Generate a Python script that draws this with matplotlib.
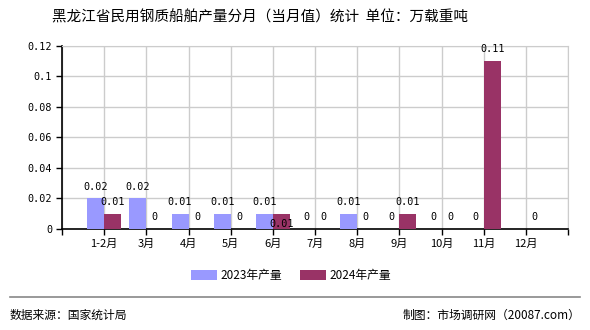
import matplotlib
matplotlib.use("Agg")
import matplotlib.pyplot as plt
import numpy as np

plt.rcParams["font.family"] = ["Noto Sans CJK SC", "DejaVu Sans"]

months = ["1-2月", "3月", "4月", "5月", "6月", "7月", "8月", "9月", "10月", "11月", "12月"]
y2023 = [0.02, 0.02, 0.01, 0.01, 0.01, 0, 0.01, 0, 0, 0, None]
y2024 = [0.01, 0, 0, 0, 0.01, 0, 0, 0.01, 0, 0.11, 0]
yticks = [0, 0.02, 0.04, 0.06, 0.08, 0.1, 0.12]

c2023 = "#9999ff"
c2024 = "#993366"
numfont = "DejaVu Sans Mono"

fig = plt.figure(figsize=(5.9, 3.3), dpi=100)
ax = fig.add_axes([0.105, 0.306, 0.858, 0.555])

x = np.arange(len(months))
w = 0.4


def fmt(v):
    return "0" if v == 0 else ("%g" % v)


for vals, off, col, lab in [(y2023, -w / 2, c2023, "2023年产量"), (y2024, w / 2, c2024, "2024年产量")]:
    xs = [xi + off for xi, v in zip(x, vals) if v is not None]
    vs = [v for v in vals if v is not None]
    ax.bar(xs, vs, width=w, color=col, label=lab, zorder=3)
    for xi, v in zip(xs, vs):
        ax.text(xi, v + 0.0045, fmt(v), ha="center", va="bottom",
                fontsize=7.3, family=numfont, zorder=4)

# the overlapping 6月 label in the reference sits inside the bar, mimic that
for t in ax.texts:
    if abs(t.get_position()[0] - (4 + w / 2)) < 1e-6:
        t.set_position((4 + w / 2, 0.0))

ax.set_xlim(-1, 11)
ax.set_ylim(0, 0.12)
ax.set_xticks(np.arange(-1, 12))
ax.set_xticklabels([""] + months + [""], fontsize=8)
ax.set_yticks(yticks)
ax.set_yticklabels([fmt(v) for v in yticks], fontsize=7.3, family=numfont)
ax.tick_params(axis="both", length=4, width=1, color="black", pad=3)
ax.grid(True, color="#cccccc", linewidth=1, zorder=0)
ax.set_axisbelow(True)
for s in ["top", "right"]:
    ax.spines[s].set_color("#cccccc")
for s in ["left", "bottom"]:
    ax.spines[s].set_color("black")
    ax.spines[s].set_linewidth(1.2)

fig.text(0.44, 0.948, "黑龙江省民用钢质船舶产量分月（当月值）统计  单位：万载重吨",
         ha="center", va="center", fontsize=10.5)

fig.legend(loc="center", bbox_to_anchor=(0.493, 0.165), ncol=2, frameon=False,
           fontsize=8.5, handlelength=2.2, handleheight=0.9, columnspacing=1.5,
           handletextpad=0.3)

fig.add_artist(plt.Line2D([0.017, 0.983], [0.1, 0.1], color="#888888", linewidth=1.2))
fig.text(0.017, 0.045, "数据来源：国家统计局", ha="left", va="center", fontsize=8.5)
fig.text(0.983, 0.045, "制图：市场调研网（20087.com）", ha="right", va="center", fontsize=8.5)

fig.savefig("out.png", dpi=100)
